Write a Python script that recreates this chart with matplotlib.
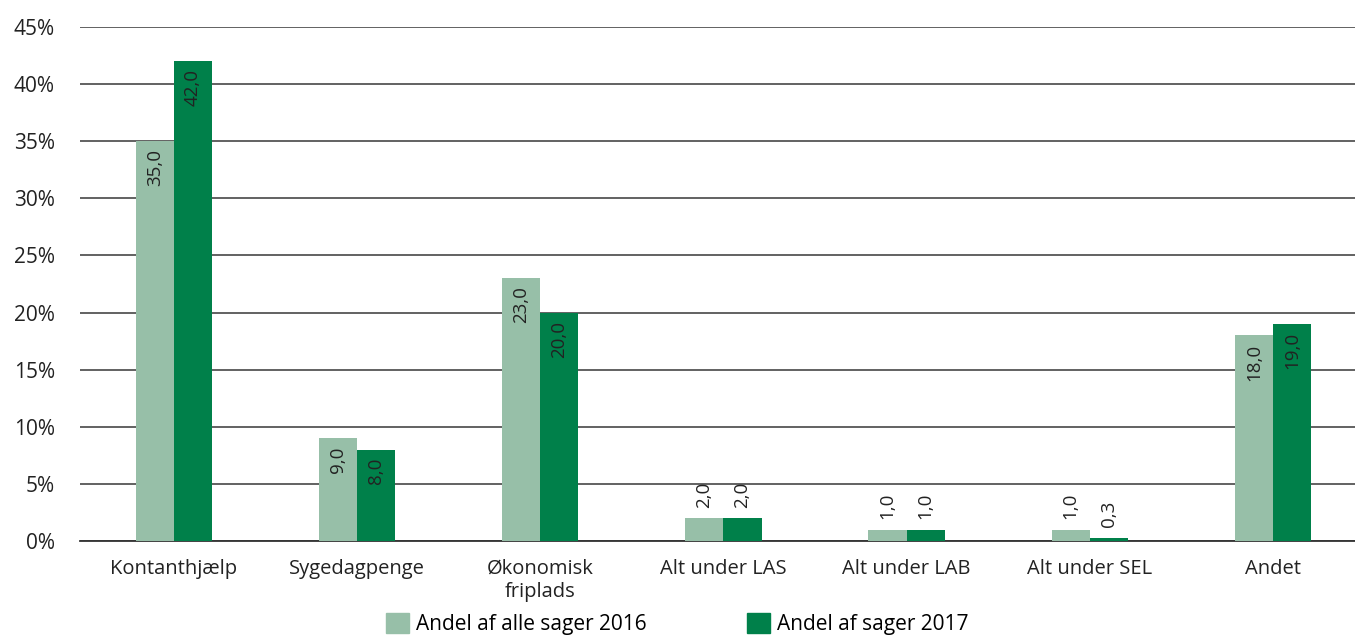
import numpy as np
import matplotlib.pyplot as plt
from matplotlib.patches import Patch

plt.rcParams['font.family'] = ['Open Sans', 'DejaVu Sans']

# data
categories = ['Kontanthjælp', 'Sygedagpenge', 'Økonomisk\nfriplads', 'Alt under LAS',
              'Alt under LAB', 'Alt under SEL', 'Andet']
share_2016 = [35.0, 9.0, 23.0, 2.0, 1.0, 1.0, 18.0]
share_2017 = [42.0, 8.0, 20.0, 2.0, 1.0, 0.3, 19.0]
series_names = ['Andel af alle sager 2016', 'Andel af sager 2017']

light = '#97bfa8'
dark = '#00804a'

fig = plt.figure(figsize=(13.55, 6.44), dpi=100)
ax = fig.add_axes([0.059, 0.16, 0.941, 0.798])

x = np.arange(len(categories))
w = 0.208
b1 = ax.bar(x - w / 2, share_2016, w, color=light, zorder=3)
b2 = ax.bar(x + w / 2, share_2017, w, color=dark, zorder=3)

def label_bars(bars, vals):
    for bar, v in zip(bars, vals):
        cx = bar.get_x() + bar.get_width() / 2
        txt = f'{v:.1f}'.replace('.', ',')
        if v >= 5:
            ax.text(cx, v - 0.7, txt, rotation=90, ha='center', va='top',
                    fontsize=13.5, color='#222222', zorder=4)
        else:
            ax.text(cx, v + 0.9, txt, rotation=90, ha='center', va='bottom',
                    fontsize=13.5, color='#222222', zorder=4)

label_bars(b1, share_2016)
label_bars(b2, share_2017)

ax.set_xlim(-0.513, 6.448)
ax.set_ylim(0, 45)
ax.set_yticks(np.arange(0, 46, 5))
ax.set_yticklabels([f'{t}%' for t in range(0, 46, 5)])
ax.set_xticks(x)
ax.set_xticklabels(categories)
ax.tick_params(axis='both', length=0, labelsize=14.5, colors='#222222')
ax.tick_params(axis='x', pad=13, labelsize=14.5)
ax.tick_params(axis='y', pad=18, labelsize=15)
for t in ax.get_yticklabels():
    t.set_horizontalalignment('right')

ax.yaxis.grid(True, color='#555555', linewidth=1.3, zorder=0)
for s in ['top', 'right', 'left']:
    ax.spines[s].set_visible(False)
ax.spines['bottom'].set_color('#333333')
ax.spines['bottom'].set_linewidth(1.3)

handles = [Patch(color=light), Patch(color=dark)]
fig.legend(handles, series_names, loc='lower center', bbox_to_anchor=(0.5, -0.015),
           ncol=2, frameon=False, fontsize=15, columnspacing=4.8,
           handlelength=1.1, handleheight=1.1, handletextpad=0.35)

fig.savefig('out.png', dpi=100)
